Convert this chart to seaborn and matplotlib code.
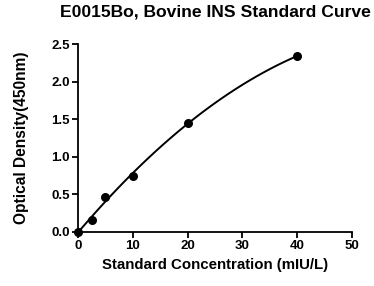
import matplotlib
matplotlib.use('Agg')
import matplotlib.pyplot as plt
import seaborn as sns
import pandas as pd

concentration = [0, 2.5, 5, 10, 20, 40]
optical_density = [0.005, 0.16, 0.46, 0.75, 1.45, 2.34]
x_ticks = [0, 10, 20, 30, 40, 50]
y_ticks = [0.0, 0.5, 1.0, 1.5, 2.0, 2.5]


def main(plot_file):
    df = pd.DataFrame({'conc': concentration, 'od': optical_density})

    sns.set_style('ticks')
    plt.rcParams['font.family'] = ['Liberation Sans', 'DejaVu Sans']
    plt.rcParams['font.weight'] = 'bold'
    plt.rcParams['text.color'] = 'black'
    plt.rcParams['axes.labelcolor'] = 'black'

    fig = plt.figure(figsize=(3.74, 2.86), dpi=100)
    ax = fig.add_axes([0.2086, 0.189, 0.7326, 0.657])

    # fitted curve plus the measured points
    sns.regplot(data=df, x='conc', y='od', order=2, ci=None, ax=ax,
                scatter_kws={'s': 30, 'color': 'black', 'alpha': 1,
                             'zorder': 3, 'clip_on': False},
                line_kws={'color': 'black', 'lw': 1.4})

    ax.set_xlim(0, 50)
    ax.set_ylim(0, 2.5)
    ax.set_xticks(x_ticks)
    ax.set_yticks(y_ticks)
    ax.set_yticklabels([f'{v:.1f}' for v in y_ticks])
    ax.tick_params(labelsize=9.5, width=1.3, length=4, pad=2,
                   colors='black')
    for lab in ax.get_xticklabels() + ax.get_yticklabels():
        lab.set_fontweight('bold')
    for s in ['left', 'bottom']:
        ax.spines[s].set_linewidth(1.3)
        ax.spines[s].set_color('black')
    sns.despine(ax=ax)

    ax.set_xlabel('Standard Concentration (mIU/L)', fontsize=10.8,
                  fontweight='bold', labelpad=4)
    ax.set_ylabel('Optical Density(450nm)', fontsize=11.2,
                  fontweight='bold', labelpad=16)
    fig.suptitle('E0015Bo, Bovine INS Standard Curve', fontsize=12.6,
                 fontweight='bold', x=0.577, y=0.985)

    fig.savefig(plot_file, dpi=100)


if __name__ == '__main__':
    main('out.png')
